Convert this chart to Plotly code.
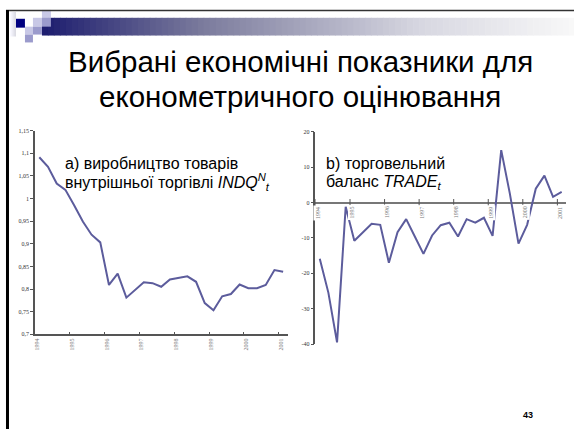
import plotly.graph_objects as go

W, H = 574, 432

# ---------------- data ----------------
years = ["1994", "1995", "1996", "1997", "1998", "1999", "2000", "2001"]
indq = [1.091, 1.070, 1.033, 1.019, 0.985, 0.949, 0.920, 0.903, 0.809, 0.834,
        0.781, 0.799, 0.815, 0.813, 0.805, 0.821, 0.825, 0.828, 0.816, 0.769,
        0.753, 0.784, 0.789, 0.810, 0.802, 0.802, 0.809, 0.842, 0.838]
trade = [-15.9, -25.5, -39.5, -1.2, -10.8, -8.4, -6.0, -6.3, -17.0, -8.4,
         -4.7, -9.6, -14.5, -9.3, -6.4, -5.7, -9.6, -4.7, -5.7, -4.3,
         -9.4, 14.8, 2.5, -11.6, -6.3, 3.9, 7.6, 1.6, 3.0]
left_ticks = [0.7, 0.75, 0.8, 0.85, 0.9, 0.95, 1.0, 1.05, 1.1, 1.15]
left_tick_text = ["0,7", "0,75", "0,8", "0,85", "0,9", "0,95", "1", "1,05", "1,1", "1,15"]
right_ticks = [-40, -30, -20, -10, 0, 10, 20]
right_tick_text = ["-40", "-30", "-20", "-10", "0", "10", "20"]

n = len(indq)
xs = list(range(n))
tick_pos = [4 * k - 0.5 for k in range(len(years))]

LINE = "#5c5c9c"
AX = "#555555"

def px(x):
    return x / W

def py(y):
    return 1 - y / H

fig = go.Figure()
fig.add_trace(go.Scatter(x=xs, y=indq, mode="lines", line=dict(color=LINE, width=2),
                         xaxis="x", yaxis="y", showlegend=False, hoverinfo="skip"))
fig.add_trace(go.Scatter(x=xs, y=trade, mode="lines", line=dict(color=LINE, width=2),
                         xaxis="x2", yaxis="y2", showlegend=False, hoverinfo="skip"))
# tick marks on the zero line of the right chart
fig.add_trace(go.Scatter(x=tick_pos, y=[0] * len(tick_pos), mode="markers",
                         marker=dict(symbol="line-ns", size=5, line=dict(width=1, color=AX)),
                         xaxis="x2", yaxis="y2", showlegend=False, hoverinfo="skip"))

tickfont_small = dict(family="Liberation Serif", size=6, color="#333333")
xlab_font = dict(family="Liberation Serif", size=6, color="#777777")

fig.update_layout(
    width=W, height=H, margin=dict(l=0, r=0, t=0, b=0),
    paper_bgcolor="white", plot_bgcolor="white",
    xaxis=dict(domain=[px(34), px(287)], range=[-0.5, n - 0.5], anchor="y",
               showgrid=False, zeroline=False, showline=True, linecolor=AX, linewidth=1.5,
               tickmode="array", tickvals=tick_pos, ticktext=years, tickangle=-90,
               ticks="inside", ticklen=3, tickcolor=AX, tickfont=xlab_font,
               ticklabelshift=2),
    yaxis=dict(domain=[py(336), py(129.3)], range=[0.7, 1.15], anchor="x",
               showgrid=False, zeroline=False, showline=True, linecolor=AX, linewidth=1.5,
               tickmode="array", tickvals=left_ticks, ticktext=left_tick_text,
               ticks="outside", ticklen=3, tickcolor=AX, tickfont=tickfont_small),
    xaxis2=dict(domain=[px(315), px(566)], range=[-0.5, n - 0.5], anchor="y2",
                showgrid=False, zeroline=False, showline=False,
                showticklabels=False, ticks=""),
    yaxis2=dict(domain=[py(346), py(130.5)], range=[-40, 20], anchor="x2",
                showgrid=False, zeroline=True, zerolinecolor="#777777", zerolinewidth=2,
                showline=True, linecolor=AX, linewidth=1.5,
                tickmode="array", tickvals=right_ticks, ticktext=right_tick_text,
                ticks="outside", ticklen=3, tickcolor=AX, tickfont=tickfont_small),
)

ann = []
# x labels on the zero line of the right chart (white background covers the line)
for tp, yr in zip(tick_pos, years):
    ann.append(dict(x=tp, y=0, xref="x2", yref="y2", text=yr, showarrow=False,
                    textangle=-90, font=xlab_font, bgcolor="white",
                    xanchor="center", yanchor="top", yshift=-2, xshift=2,
                    borderpad=1))

# title
tfont = dict(family="Liberation Sans", size=29.5, color="black")
ann.append(dict(x=0.522, y=py(59), xref="paper", yref="paper", showarrow=False,
                text="Вибрані економічні показники для", font=tfont,
                xanchor="center", yanchor="middle"))
ann.append(dict(x=0.522, y=py(95), xref="paper", yref="paper", showarrow=False,
                text="економетричного оцінювання", font=tfont,
                xanchor="center", yanchor="middle"))

sfont = dict(family="Liberation Sans", size=16, color="black")
ann.append(dict(x=px(62), y=py(163), xref="paper", yref="paper", showarrow=False,
                text="а) виробництво товарів", font=sfont, xanchor="left", yanchor="middle"))
ann.append(dict(x=px(62), y=py(182), xref="paper", yref="paper", showarrow=False,
                text="внутрішньої торгівлі <i>INDQ</i><sup><i>N</i></sup><sub><i>t</i></sub>",
                font=sfont, xanchor="left", yanchor="middle"))
ann.append(dict(x=px(324), y=py(163), xref="paper", yref="paper", showarrow=False,
                text="b) торговельний", font=sfont, xanchor="left", yanchor="middle"))
ann.append(dict(x=px(324), y=py(182), xref="paper", yref="paper", showarrow=False,
                text="баланс <i>TRADE</i><sub><i>t</i></sub>",
                font=sfont, xanchor="left", yanchor="middle"))
# page number
ann.append(dict(x=px(528), y=py(418), xref="paper", yref="paper", showarrow=False,
                text="<b>43</b>", font=dict(family="Liberation Sans", size=9, color="black"),
                xanchor="center", yanchor="middle"))
fig.update_layout(annotations=ann)

# ---------------- slide decoration ----------------
shapes = []

def rect(x0, y0, x1, y1, color):
    shapes.append(dict(type="rect", xref="paper", yref="paper",
                       x0=px(x0), x1=px(x1), y0=py(y1), y1=py(y0),
                       fillcolor=color, line=dict(width=0), layer="below"))

# gradient bar
stops = [(41, (28, 28, 110)), (200, (122, 122, 156)), (420, (215, 215, 225)), (574, (248, 248, 248))]
def col_at(x):
    for (xa, ca), (xb, cb) in zip(stops[:-1], stops[1:]):
        if xa <= x <= xb:
            t = (x - xa) / (xb - xa)
            return tuple(int(round(ca[i] + (cb[i] - ca[i]) * t)) for i in range(3))
    return stops[-1][1]
step = 6
x = 41
while x < 574:
    c = col_at(x + step / 2)
    rect(x, 15, min(x + step + 0.6, 574), 33, "rgb(%d,%d,%d)" % c)
    x += step

# left soft fade
for i in range(7):
    v = 255 - i * 6
    rect(8 + i, 9, 9 + i, 34, "rgb(%d,%d,%d)" % (v, v, min(255, v + 8)))

# squares
rect(15, 16, 24, 25, "#000080")
rect(24, 15, 32, 24, "#ffffff")
rect(24, 24, 32, 32, "#c8c8e6")
rect(24, 32, 32, 40, "#9b9bcc")
rect(32, 15, 41, 24, "#c8c8e6")
rect(32, 24, 41, 32, "#9b9bcc")
rect(41, 7, 50, 15, "#c8c8e6")
rect(41, 15, 50, 24, "#9b9bcc")

# frame lines
shapes.append(dict(type="line", xref="paper", yref="paper", x0=px(5), x1=1, y0=py(7.5), y1=py(7.5),
                   line=dict(color="#333333", width=1.5)))
shapes.append(dict(type="line", xref="paper", yref="paper", x0=px(6.5), x1=px(6.5), y0=py(7), y1=0,
                   line=dict(color="black", width=3)))
fig.update_layout(shapes=shapes)

fig.write_html("out.html")
